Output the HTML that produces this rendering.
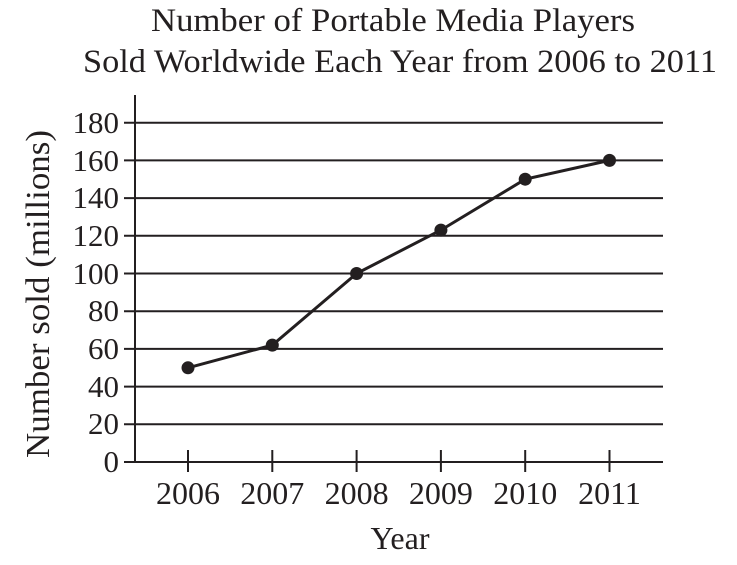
<!DOCTYPE html>
<html><head><style>body{margin:0;background:#fff}</style></head><body>
<svg width="737" height="560" xmlns="http://www.w3.org/2000/svg" font-family="Liberation Serif, serif" fill="#231f20">
<text x="393" y="31" font-size="33" text-anchor="middle" textLength="484" lengthAdjust="spacingAndGlyphs">Number of Portable Media Players</text>
<text x="400" y="72" font-size="33" text-anchor="middle" textLength="634" lengthAdjust="spacingAndGlyphs">Sold Worldwide Each Year from 2006 to 2011</text>
<g stroke="#231f20" stroke-width="2">
<line x1="124" y1="122.7" x2="663" y2="122.7"/>
<line x1="124" y1="160.4" x2="663" y2="160.4"/>
<line x1="124" y1="198.1" x2="663" y2="198.1"/>
<line x1="124" y1="235.8" x2="663" y2="235.8"/>
<line x1="124" y1="273.5" x2="663" y2="273.5"/>
<line x1="124" y1="311.2" x2="663" y2="311.2"/>
<line x1="124" y1="348.9" x2="663" y2="348.9"/>
<line x1="124" y1="386.6" x2="663" y2="386.6"/>
<line x1="124" y1="424.3" x2="663" y2="424.3"/>
<line x1="124" y1="462" x2="663" y2="462"/>
<line x1="135" y1="95" x2="135" y2="462"/>
<line x1="188" y1="450" x2="188" y2="472"/>
<line x1="272.3" y1="450" x2="272.3" y2="472"/>
<line x1="356.6" y1="450" x2="356.6" y2="472"/>
<line x1="440.9" y1="450" x2="440.9" y2="472"/>
<line x1="525.2" y1="450" x2="525.2" y2="472"/>
<line x1="609.5" y1="450" x2="609.5" y2="472"/>
</g>
<polyline fill="none" stroke="#231f20" stroke-width="3" points="188,367.8 272.3,345.1 356.6,273.5 440.9,230.1 525.2,179.2 609.5,160.4"/>
<g>
<circle cx="188" cy="367.8" r="6.5"/><circle cx="272.3" cy="345.1" r="6.5"/><circle cx="356.6" cy="273.5" r="6.5"/>
<circle cx="440.9" cy="230.1" r="6.5"/><circle cx="525.2" cy="179.2" r="6.5"/><circle cx="609.5" cy="160.4" r="6.5"/>
</g>
<g font-size="31" text-anchor="end">
<text x="119" y="133">180</text><text x="119" y="171">160</text><text x="119" y="208">140</text>
<text x="119" y="246">120</text><text x="119" y="284">100</text><text x="119" y="321">80</text>
<text x="119" y="359">60</text><text x="119" y="397">40</text><text x="119" y="434">20</text>
<text x="119" y="472">0</text>
</g>
<g font-size="32" text-anchor="middle">
<text x="188" y="504">2006</text><text x="272.3" y="504">2007</text><text x="356.6" y="504">2008</text>
<text x="440.9" y="504">2009</text><text x="525.2" y="504">2010</text><text x="609.5" y="504">2011</text>
<text x="400" y="549">Year</text>
</g>
<text transform="translate(49,294) rotate(-90)" font-size="34" text-anchor="middle" textLength="328" lengthAdjust="spacingAndGlyphs">Number sold (millions)</text>
</svg>
</body></html>
